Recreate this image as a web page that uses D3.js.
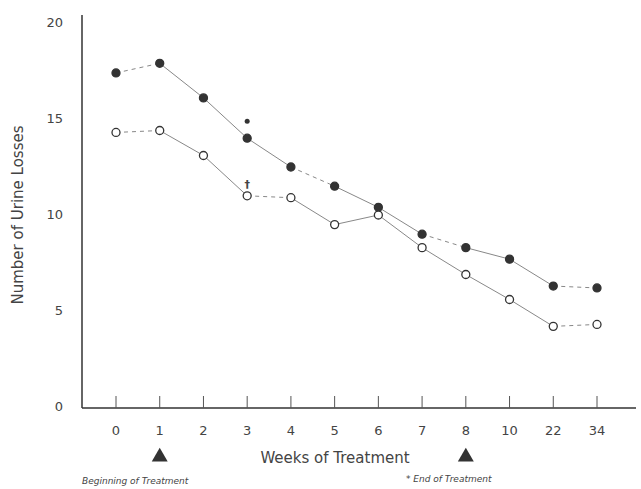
<!DOCTYPE html>
<html>
<head>
<meta charset="utf-8">
<script src="https://cdn.jsdelivr.net/npm/d3@7"></script>
<style>
  body { margin: 0; background: #fff; }
  svg text { font-family: "DejaVu Sans", sans-serif; fill: #444; }
</style>
</head>
<body>
<div id="chart"></div>
<script>
var weeks = ["0", "1", "2", "3", "4", "5", "6", "7", "8", "10", "22", "34"];
var filledValues = [17.4, 17.9, 16.1, 14.0, 12.5, 11.5, 10.4, 9.0, 8.3, 7.7, 6.3, 6.2];
var openValues = [14.3, 14.4, 13.1, 11.0, 10.9, 9.5, 10.0, 8.3, 6.9, 5.6, 4.2, 4.3];
var yTicks = [0, 5, 10, 15, 20];
// segments (by start index) drawn dashed in the original
var filledDashed = [0, 4, 7, 10];
var openDashed = [0, 3, 10];
var markerWeeks = ["1", "8"];

var width = 641, height = 489;
var svg = d3.select("#chart").append("svg")
    .attr("width", width)
    .attr("height", height);

var x = d3.scalePoint().domain(weeks).range([116, 597]);
var y = d3.scaleLinear().domain([0, 20]).range([407, 23]);

// axes lines
svg.append("line")
    .attr("x1", 82).attr("x2", 82).attr("y1", 15).attr("y2", 408)
    .attr("stroke", "#333").attr("stroke-width", 1.5);
svg.append("line")
    .attr("x1", 82).attr("x2", 636).attr("y1", 408).attr("y2", 408)
    .attr("stroke", "#333").attr("stroke-width", 1.5);

// y tick labels
svg.selectAll(".ytick").data(yTicks).enter().append("text")
    .attr("class", "ytick")
    .attr("x", 63)
    .attr("y", function(d) { return y(d) + 4; })
    .attr("text-anchor", "end")
    .style("font-size", "13px")
    .text(function(d) { return d; });

// x ticks
svg.selectAll(".xtick").data(weeks).enter().append("line")
    .attr("x1", function(d) { return x(d); })
    .attr("x2", function(d) { return x(d); })
    .attr("y1", 396).attr("y2", 408)
    .attr("stroke", "#555").attr("stroke-width", 1);
svg.selectAll(".xlab").data(weeks).enter().append("text")
    .attr("class", "xlab")
    .attr("x", function(d) { return x(d); })
    .attr("y", 435)
    .attr("text-anchor", "middle")
    .style("font-size", "13px")
    .text(function(d) { return d; });

// axis titles
svg.append("text")
    .attr("transform", "translate(23,215) rotate(-90)")
    .attr("text-anchor", "middle")
    .style("font-size", "15px")
    .text("Number of Urine Losses");
svg.append("text")
    .attr("x", 335).attr("y", 463)
    .attr("text-anchor", "middle")
    .style("font-size", "15px")
    .text("Weeks of Treatment");

// treatment triangles
svg.selectAll(".tri").data(markerWeeks).enter().append("path")
    .attr("d", d3.symbol().type(d3.symbolTriangle).size(110))
    .attr("transform", function(d) { return "translate(" + x(d) + ",457)"; })
    .attr("fill", "#333");

svg.append("text")
    .attr("x", 82).attr("y", 484)
    .style("font-size", "9px").style("font-style", "italic")
    .text("Beginning of Treatment");
svg.append("text")
    .attr("x", 406).attr("y", 482)
    .style("font-size", "9px").style("font-style", "italic")
    .text("* End of Treatment");

function drawSeries(values, dashed, filled) {
    var g = svg.append("g");
    for (var i = 0; i < values.length - 1; i++) {
        g.append("line")
            .attr("x1", x(weeks[i])).attr("y1", y(values[i]))
            .attr("x2", x(weeks[i + 1])).attr("y2", y(values[i + 1]))
            .attr("stroke", "#888").attr("stroke-width", 1)
            .attr("stroke-dasharray", dashed.indexOf(i) >= 0 ? "4,4" : null);
    }
    g.selectAll("circle").data(values).enter().append("circle")
        .attr("cx", function(d, i) { return x(weeks[i]); })
        .attr("cy", function(d) { return y(d); })
        .attr("r", 4)
        .attr("fill", filled ? "#333" : "#fff")
        .attr("stroke", "#333")
        .attr("stroke-width", 1.3);
}

drawSeries(filledValues, filledDashed, true);
drawSeries(openValues, openDashed, false);

// end-of-treatment marks at week 3
svg.append("circle")
    .attr("cx", x("3")).attr("cy", y(filledValues[3]) - 17)
    .attr("r", 2.5).attr("fill", "#333");
svg.append("text")
    .attr("x", x("3")).attr("y", y(openValues[3]) - 8)
    .attr("text-anchor", "middle")
    .style("font-size", "11px").style("font-weight", "bold")
    .text("\u2020");
</script>
</body>
</html>
